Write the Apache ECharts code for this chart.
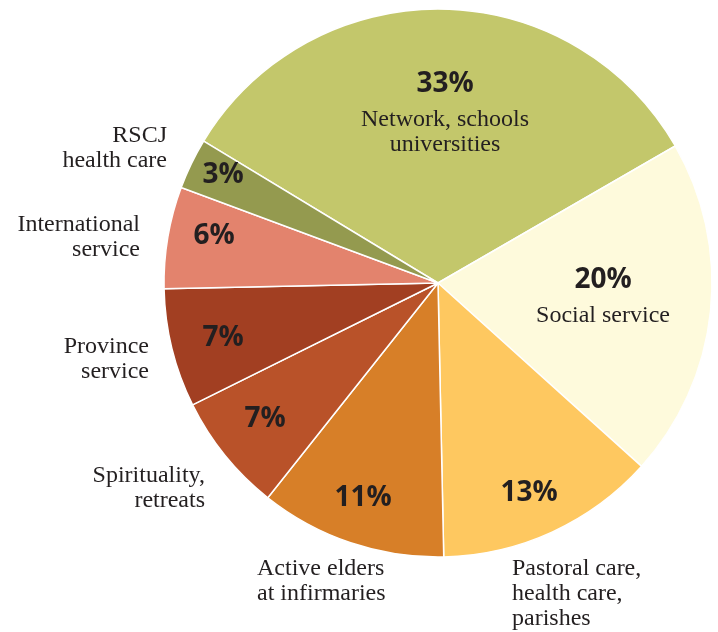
<!DOCTYPE html>
<html>
<head>
<meta charset="utf-8">
<script src="https://cdn.jsdelivr.net/npm/echarts@6/dist/echarts.min.js"></script>
<style>
html,body{margin:0;padding:0;background:#fff;}
#chart{width:718px;height:632px;}
</style>
</head>
<body>
<div id="chart"></div>
<script>
// ---- data ----
const categories = [
  'Network, schools\nuniversities',
  'Social service',
  'Pastoral care,\nhealth care,\nparishes',
  'Active elders\nat infirmaries',
  'Spirituality,\nretreats',
  'Province\nservice',
  'International\nservice',
  'RSCJ\nhealth care'
];
const values = [33, 20, 13, 11, 7, 7, 6, 3];
const insideName = [true, true, false, false, false, false, false, false];

// ---- styles / layout ----
const colors = ['#c3c76b', '#fefadc', '#fec860', '#d77f28', '#b95229', '#a23f22', '#e3836d', '#949a4f'];
const textColor = '#231f20';
const pctFont = 'Open Sans';
const nameFont = 'Liberation Serif';
// label anchor positions (annotation layout)
const pctPos = [
  {x: 445, y: 61, top: true}, {x: 603, y: 257, top: true},
  {x: 529, y: 493}, {x: 363, y: 498}, {x: 265, y: 419},
  {x: 223, y: 338}, {x: 214, y: 236}, {x: 223, y: 175}
];
const namePos = [
  null, null,
  {x: 512, y: 556, align: 'left'},
  {x: 257, y: 556, align: 'left'},
  {x: 205, y: 463, align: 'right'},
  {x: 149, y: 334, align: 'right'},
  {x: 140, y: 212, align: 'right'},
  {x: 167, y: 123, align: 'right'}
];

const pieData = categories.map((c, i) => ({
  name: c, value: values[i], itemStyle: {color: colors[i]}
}));

const chart = echarts.init(document.getElementById('chart'), null, {renderer: 'canvas'});
chart.setOption({
  animation: false,
  backgroundColor: '#fff',
  series: [
    {
      type: 'pie',
      center: [438, 283],
      radius: [0, 274],
      startAngle: 148.8,
      clockwise: true,
      data: pieData,
      itemStyle: {borderColor: '#fff', borderWidth: 1.5},
      labelLine: {show: false},
      emphasis: {disabled: true},
      label: {
        show: true,
        position: 'inside',
        overflow: 'none',
        color: textColor,
        formatter: function (p) {
          const i = p.dataIndex;
          if (insideName[i]) {
            const lines = p.name.split('\n').map(s => '{c|' + s + '}').join('\n');
            return '{p|' + p.value + '%}\n' + lines;
          }
          return '{p|' + p.value + '%}';
        },
        rich: {
          p: {fontFamily: pctFont, fontWeight: 'bold', fontSize: 28, lineHeight: 46, color: textColor, align: 'center'},
          c: {fontFamily: nameFont, fontSize: 24, lineHeight: 25, color: textColor, align: 'center'}
        }
      },
      labelLayout: function (params) {
        const pos = pctPos[params.dataIndex];
        return {
          x: pos.x, y: pos.top ? pos.y : pos.y - 23,
          align: 'center', verticalAlign: 'top'
        };
      }
    },
    {
      type: 'pie',
      center: [438, 283],
      radius: [0, 274],
      startAngle: 148.8,
      clockwise: true,
      silent: true,
      data: pieData.map((d, i) => ({
        name: d.name, value: d.value,
        itemStyle: {color: 'rgba(0,0,0,0)'},
        label: {show: !insideName[i]}
      })),
      itemStyle: {borderWidth: 0},
      labelLine: {show: false},
      emphasis: {disabled: true},
      label: {
        show: true,
        position: 'outside',
        overflow: 'none',
        width: 200,
        formatter: '{b}',
        fontFamily: nameFont,
        fontSize: 24,
        lineHeight: 25,
        color: textColor
      },
      labelLayout: function (params) {
        const pos = namePos[params.dataIndex];
        if (!pos) return {};
        return {x: pos.x, y: pos.y, align: pos.align, verticalAlign: 'top'};
      }
    }
  ]
});
</script>
</body>
</html>
